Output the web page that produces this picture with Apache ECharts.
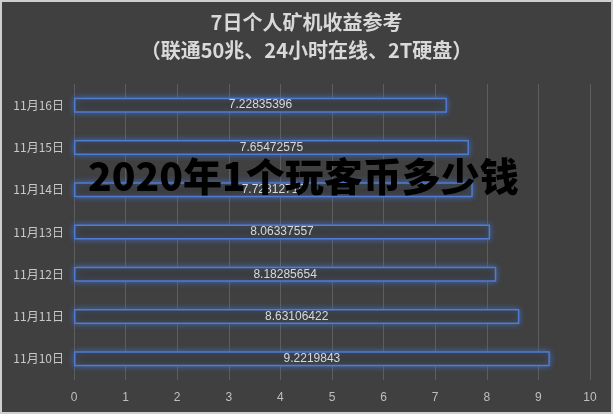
<!DOCTYPE html>
<html>
<head>
<meta charset="utf-8">
<script src="https://cdn.jsdelivr.net/npm/echarts@6/dist/echarts.min.js"></script>
<style>
html,body{margin:0;padding:0;background:#404040;}
#c{width:613px;height:414px;}
</style>
</head>
<body>
<div id="c"></div>
<script>
var categories = ['11月10日','11月11日','11月12日','11月13日','11月14日','11月15日','11月16日'];
var values = [9.2219843, 8.63106422, 8.18285654, 8.06337557, 7.72812719, 7.65472575, 7.22835396];
var xTicks = [0,1,2,3,4,5,6,7,8,9,10];
var titleLines = ['7日个人矿机收益参考','（联通50兆、24小时在线、2T硬盘）'];
var watermark = '2020年1个玩客币多少钱';

var chart = echarts.init(document.getElementById('c'));
chart.setOption({
  backgroundColor: '#404040',
  animation: false,
  title: {
    text: titleLines.join('\n'),
    left: 'center',
    top: 3,
    textStyle: {
      color: '#d9d9d9',
      fontSize: 20,
      fontWeight: 'bold',
      lineHeight: 28,
      fontFamily: 'Noto Sans CJK SC'
    }
  },
  grid: { left: 74, right: 23, top: 84, bottom: 34, containLabel: false },
  xAxis: {
    type: 'value',
    min: xTicks[0],
    max: xTicks[xTicks.length - 1],
    interval: 1,
    axisLine: { show: false },
    axisTick: { show: false },
    splitLine: { show: true, lineStyle: { color: '#5e5e5e', width: 1 } },
    axisLabel: { color: '#bfbfbf', fontSize: 12, margin: 12, fontFamily: 'Liberation Sans' }
  },
  yAxis: {
    type: 'category',
    data: categories,
    axisLine: { show: false },
    axisTick: { show: false },
    axisLabel: { color: '#c8c8c8', fontSize: 12, margin: 10, fontFamily: 'Noto Sans CJK SC' }
  },
  series: [{
    type: 'bar',
    data: values,
    barWidth: 15,
    itemStyle: {
      color: '#3b3b3b',
      borderColor: '#4f7bd0',
      borderWidth: 1.5,
      shadowColor: 'rgba(68,114,196,0.85)',
      shadowBlur: 6
    },
    label: {
      show: true,
      position: 'inside',
      color: '#d9d9d9',
      fontSize: 12,
      fontFamily: 'Liberation Sans',
      formatter: function (p) { return String(p.value); }
    }
  }],
  graphic: [
    {
      type: 'rect',
      shape: { x: 1, y: 1, width: 611, height: 412 },
      style: { fill: 'none', stroke: '#cfcfcf', lineWidth: 2 },
      silent: true,
      z: 100
    },
    {
      type: 'text',
      left: 88,
      top: 157,
      z: 100,
      style: {
        text: watermark,
        fill: '#000000',
        fontSize: 39,
        fontWeight: 900,
        fontFamily: 'Noto Sans CJK SC'
      }
    }
  ]
});
</script>
</body>
</html>
